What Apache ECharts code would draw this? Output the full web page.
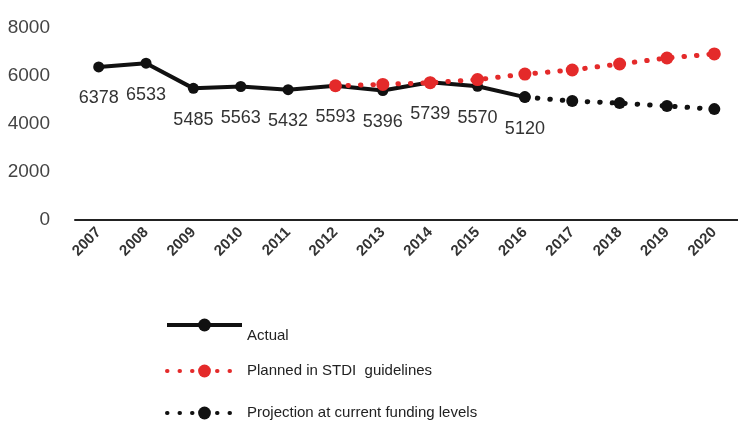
<!DOCTYPE html>
<html><head><meta charset="utf-8">
<script src="https://cdn.jsdelivr.net/npm/echarts@6/dist/echarts.min.js"></script>
<style>html,body{margin:0;padding:0;background:#fff}#c{width:738px;height:421px}</style>
</head><body><div id="c"></div>
<script>
const years = ['2007','2008','2009','2010','2011','2012','2013','2014','2015','2016','2017','2018','2019','2020'];
const actual = [6378,6533,5485,5563,5432,5593,5396,5739,5570,5120,null,null,null,null];
const planned = [null,null,null,null,null,5593,5650,5720,5850,6080,6250,6500,6750,6920];
const projection = [null,null,null,null,null,null,null,null,null,5120,4960,4870,4750,4620];
const yTicks = [0,2000,4000,6000,8000];
const seriesNames = ['Actual','Planned in STDI  guidelines','Projection at current funding levels'];

const font = '"Liberation Sans Narrow", "Liberation Sans", Arial, sans-serif';
const legendTops = [298, 355, 397];
const chart = echarts.init(document.getElementById('c'));
chart.setOption({
  animation: false,
  grid: {left: 75, right: -3, top: 28, height: 192},
  legend: seriesNames.map((n, i) => ({
    orient: 'vertical', left: 160, top: legendTops[i], itemWidth: 75, itemHeight: 16,
    formatter: i === 0 ? (name => '\n' + name) : (name => name),
    textStyle: {fontFamily: font, fontSize: 15, color: '#222', lineHeight: 22},
    data: [{name: n, lineStyle: {width: 4}}]
  })),
  xAxis: {
    type: 'category', data: years, boundaryGap: true,
    axisLine: {lineStyle: {color: '#222', width: 2}},
    axisTick: {show: false},
    axisLabel: {rotate: 45, margin: 10, fontFamily: font, fontSize: 15, fontWeight: 'bold', color: '#333'}
  },
  yAxis: {
    type: 'value', min: 0, max: 8000, interval: 2000,
    axisLine: {show: false}, axisTick: {show: false}, splitLine: {show: false},
    axisLabel: {margin: 25, fontFamily: font, fontSize: 19, color: '#444',
      formatter: v => yTicks.includes(v) ? String(v) : ''}
  },
  series: [
    {name: seriesNames[0], type: 'line', data: actual, color: '#111', symbol: 'circle', symbolSize: 11,
     lineStyle: {width: 4, color: '#111'}, itemStyle: {color: '#111'}, z: 2,
     label: {show: true, position: 'bottom', distance: 17, fontFamily: font, fontSize: 18, color: '#333'}},
    {name: seriesNames[1], type: 'line', data: planned, color: '#e42a2a', symbol: 'circle', symbolSize: 13,
     lineStyle: {width: 5, color: '#e42a2a', type: [0.5, 12], cap: 'round'}, itemStyle: {color: '#e42a2a'}, z: 3},
    {name: seriesNames[2], type: 'line', data: projection, color: '#111', symbol: 'circle', symbolSize: 12,
     lineStyle: {width: 5, color: '#111', type: [0.5, 12], cap: 'round'}, itemStyle: {color: '#111'}, z: 3}
  ]
});
</script></body></html>
